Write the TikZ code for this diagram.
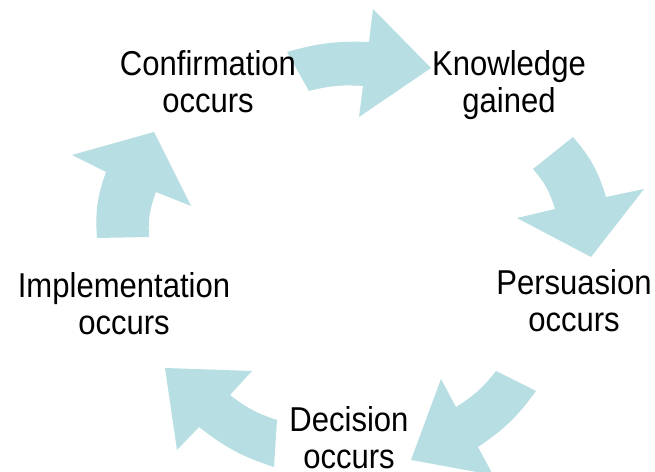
\documentclass[tikz,border=0pt]{standalone}
\usepackage{fontspec}
\setmainfont{Liberation Sans}
\newfontfamily\lblfont[FakeStretch=0.9]{Liberation Sans}
\definecolor{cyc}{RGB}{183,222,226}
\begin{document}
\begin{tikzpicture}[x=1bp,y=1bp,
  lbl/.style={align=center,inner sep=0pt,font=\lblfont\fontsize{34.5bp}{37bp}\selectfont},
  arr/.style={fill=cyc,draw=none}]
\useasboundingbox (0,0) rectangle (655,472);
\begin{scope}
\clip (0,0) rectangle (655,472);
% top arrow
\fill[arr] (287,420) to[bend left=9] (369,430) -- (373,463) -- (431,404) -- (359,355) -- (363,386) to[bend right=9] (309,381) -- cycle;
% right arrow
\fill[arr] (573,335) to[bend left=12] (606,275) -- (644,283) -- (591,215) -- (517,254) -- (555,263) to[bend right=12] (533,303) -- cycle;
% lower right arrow
\fill[arr] (536,81) to[bend left=10] (478,25) -- (493,-3) -- (411,12) -- (441,93) -- (456,65) to[bend right=10] (496,101) -- cycle;
% lower left arrow
\fill[arr] (274,5) to[bend left=10] (199,45) -- (177,22) -- (165,104) -- (252,101) -- (230,77) to[bend right=10] (277,52) -- cycle;
% left arrow
\fill[arr] (97,234) to[bend left=12] (106,300) -- (72,317) -- (154,340) -- (191,266) -- (156,280) to[bend right=12] (149,235) -- cycle;
\end{scope}
\node[lbl] (conf) at (208,390) {Confirmation\\occurs};
\node[lbl] (know) at (509,387.3) {Knowledge\\gained};
\node[lbl] (pers) at (574,171.5) {Persuasion\\occurs};
\node[lbl] (deci) at (349,34.5) {Decision\\occurs};
\node[lbl] (impl) at (124,168.5) {Implementation\\occurs};
\end{tikzpicture}
\end{document}
